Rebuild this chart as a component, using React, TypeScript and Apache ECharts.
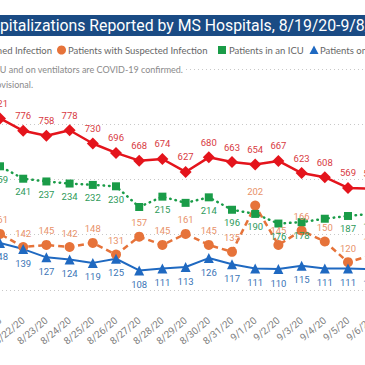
import React, { useEffect, useRef } from 'react';
import * as echarts from 'echarts';

const dates = ['8/19/20', '8/20/20', '8/21/20', '8/22/20', '8/23/20', '8/24/20', '8/25/20', '8/26/20', '8/27/20', '8/28/20', '8/29/20', '8/30/20', '8/31/20', '9/1/20', '9/2/20', '9/3/20', '9/4/20', '9/5/20', '9/6/20', '9/7/20', '9/8/20'];
const confirmed = [868, 845, 821, 776, 758, 778, 730, 696, 668, 674, 627, 680, 663, 654, 667, 623, 608, 569, 566, 548, 541];
const suspected = [158, 150, 161, 142, 145, 142, 148, 131, 157, 145, 161, 145, 135, 202, 145, 166, 150, 120, 130, 128, 118];
const icu = [270, 265, 259, 241, 237, 234, 232, 230, 200, 215, 206, 214, 196, 190, 176, 178, 183, 187, 190, 186, 182];
const ventilators = [152, 150, 148, 139, 127, 124, 119, 125, 108, 111, 113, 126, 117, 111, 110, 115, 111, 111, 110, 108, 106];
const icuHiddenLabels = ['8/27/20', '8/29/20', '9/4/20'];

const seriesNames = ['Patients with Confirmed Infection', 'Patients with Suspected Infection', 'Patients in an ICU', 'Patients on Ventilators'];
const titleText = 'COVID-19 Hospitalizations Reported by MS Hospitals, 8/19/20-9/8/20';
const note1 = '*All patients in ICU and on ventilators are COVID-19 confirmed.';
const note2 = '**Data are provisional.';

const OFF = 120;
const CW = 605;
const CH = 365;

const RED = '#e4141c';
const ORANGE = '#e6733a';
const GREEN = '#1a9c48';
const BLUE = '#1f69c1';
const LABEL_FONT = "'Liberation Sans Narrow', Roboto, sans-serif";
const UI_FONT = "Lato, 'Noto Sans', sans-serif";

export default function App() {
  const ref = useRef<HTMLDivElement>(null);
  useEffect(() => {
    if (!ref.current) return;
    const chart = echarts.init(ref.current, null, { renderer: 'svg' });
    const lbl = (color: string, position: string) => ({
      show: true,
      position,
      distance: 4,
      color,
      fontSize: 9.5,
      fontFamily: LABEL_FONT,
    });
    const icuData = icu.map((v, i) =>
      icuHiddenLabels.includes(dates[i]) ? { value: v, label: { show: false } } : v
    );
    const X = (vx: number) => vx + OFF;
    chart.setOption({
      animation: false,
      backgroundColor: '#ffffff',
      grid: { left: 62, width: 487.2, top: 69, height: 276 },
      xAxis: {
        type: 'category',
        data: dates,
        boundaryGap: true,
        offset: -30,
        axisLine: { show: false },
        axisTick: { show: false },
        axisLabel: { rotate: 40, interval: 0, color: '#808080', fontSize: 10, fontFamily: LABEL_FONT, margin: 4 },
      },
      yAxis: [
        {
          type: 'value', min: 0, max: 400, interval: 100,
          axisLabel: { show: false }, axisLine: { show: false }, axisTick: { show: false },
          splitLine: { show: false },
        },
        {
          type: 'value', min: 0, max: 1000, interval: 200, position: 'right',
          axisLabel: { show: false }, axisLine: { show: false }, axisTick: { show: false },
          splitLine: { show: true, showMinLine: false, lineStyle: { color: '#c8c8c8', type: [1, 3], width: 1 } },
        },
      ],
      series: [
        {
          name: seriesNames[0], type: 'line', yAxisIndex: 1, data: confirmed,
          symbol: 'diamond', symbolSize: 12, itemStyle: { color: RED },
          lineStyle: { color: RED, width: 2.5 },
          label: lbl('#d83a42', 'top'),
        },
        {
          name: seriesNames[1], type: 'line', yAxisIndex: 0, data: suspected,
          symbol: 'circle', symbolSize: 10, itemStyle: { color: ORANGE },
          lineStyle: { color: ORANGE, width: 2.5, type: [6, 4] },
          label: lbl('#e8926a', 'top'),
        },
        {
          name: seriesNames[2], type: 'line', yAxisIndex: 0, data: icuData,
          symbol: 'rect', symbolSize: 8, itemStyle: { color: GREEN },
          lineStyle: { color: GREEN, width: 2.5, type: [0.5, 5], cap: 'round' },
          label: lbl('#2e9a5a', 'bottom'),
        },
        {
          name: seriesNames[3], type: 'line', yAxisIndex: 0, data: ventilators,
          symbol: 'triangle', symbolSize: 10, itemStyle: { color: BLUE },
          lineStyle: { color: BLUE, width: 2 },
          label: lbl('#3a74b6', 'bottom'),
        },
      ],
      graphic: [
        { type: 'rect', z: 100, shape: { x: 0, y: 15, width: CW, height: 21 }, style: { fill: '#1a4b84' } },
        {
          type: 'text', z: 101, x: X(389), y: 25.5,
          style: { text: titleText, fill: '#ffffff', font: '15.8px Roboto', textAlign: 'right', textVerticalAlign: 'middle' },
        },
        { type: 'polygon', z: 101, shape: { points: [[X(-112), 46], [X(-108), 50], [X(-112), 54], [X(-116), 50]] }, style: { fill: RED } },
        {
          type: 'text', z: 101, x: X(52), y: 50,
          style: { text: seriesNames[0], fill: '#666666', font: `9.5px ${UI_FONT}`, textAlign: 'right', textVerticalAlign: 'middle' },
        },
        { type: 'circle', z: 101, shape: { cx: X(61.5), cy: 50, r: 4.5 }, style: { fill: ORANGE } },
        {
          type: 'text', z: 101, x: X(68), y: 50,
          style: { text: seriesNames[1], fill: '#666666', font: `9.5px ${UI_FONT}`, textAlign: 'left', textVerticalAlign: 'middle' },
        },
        { type: 'rect', z: 101, shape: { x: X(218), y: 46, width: 8, height: 8 }, style: { fill: GREEN } },
        {
          type: 'text', z: 101, x: X(229), y: 50,
          style: { text: seriesNames[2], fill: '#666666', font: `9.5px ${UI_FONT}`, textAlign: 'left', textVerticalAlign: 'middle' },
        },
        { type: 'polygon', z: 101, shape: { points: [[X(314), 45.5], [X(318.5), 54], [X(309.5), 54]] }, style: { fill: BLUE } },
        {
          type: 'text', z: 101, x: X(320), y: 50,
          style: { text: seriesNames[3], fill: '#666666', font: `9.5px ${UI_FONT}`, textAlign: 'left', textVerticalAlign: 'middle' },
        },
        {
          type: 'text', z: 101, x: X(186), y: 69.5,
          style: { text: note1, fill: '#8a8a8a', font: `9px ${UI_FONT}`, textAlign: 'right', textVerticalAlign: 'middle', backgroundColor: '#ffffff', padding: [1, 3, 1, 2] },
        },
        {
          type: 'text', z: 101, x: X(33), y: 84,
          style: { text: note2, fill: '#8a8a8a', font: `9px ${UI_FONT}`, textAlign: 'right', textVerticalAlign: 'middle' },
        },
      ],
    });
    return () => chart.dispose();
  }, []);
  return (
    <div style={{ position: 'fixed', left: 0, top: 0, width: 365, height: 365, overflow: 'hidden', background: '#fff' }}>
      <div ref={ref} style={{ position: 'absolute', left: -OFF, top: 0, width: CW, height: CH }} />
    </div>
  );
}
